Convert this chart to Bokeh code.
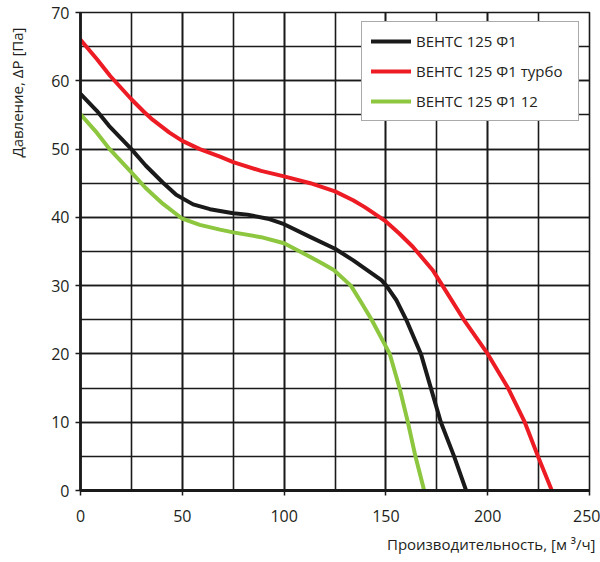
from bokeh.plotting import figure
from bokeh.models import Range1d, SingleIntervalTicker, Legend, LegendItem, Title
from bokeh.embed import file_html
from bokeh.resources import INLINE

# Data
x_black = [0, 8, 14, 25, 32, 40.4, 47, 55.3, 63.6, 75, 82, 92, 100, 113, 125, 134, 137.3, 147.8, 150.2, 155.1, 160, 167.2, 172.1, 177, 183.5, 189.4]
y_black = [58.1, 55.6, 53.4, 50.0, 47.6, 45.1, 43.3, 41.9, 41.2, 40.6, 40.4, 39.8, 39.0, 37.1, 35.4, 33.7, 33.0, 30.8, 30, 27.9, 25, 20, 15, 10, 5, 0]

x_red = [0, 8, 14.6, 25, 31, 35.4, 43.7, 50, 58.6, 68.5, 75, 88.7, 100, 112.9, 125, 133.9, 139.6, 150, 156.7, 163.2, 172.9, 177.8, 188.3, 193.9, 200, 210, 218.2, 224.7, 231.5]
y_red = [66, 63.2, 60.7, 57.3, 55.5, 54.3, 52.4, 51.2, 50.0, 48.9, 48.1, 46.8, 46.0, 45.0, 43.8, 42.5, 41.5, 39.4, 37.6, 35.7, 32.3, 30, 25, 22.6, 20, 15, 10, 5, 0]

x_green = [0, 8, 14, 25, 32, 40.4, 50, 58.6, 68.5, 75, 88.7, 100, 112.9, 119, 124.4, 132.8, 138, 143, 151.9, 156.7, 160.8, 164.5, 168.8]
y_green = [55.1, 52.4, 50.1, 46.6, 44.3, 42.0, 39.8, 38.9, 38.2, 37.8, 37.1, 36.2, 34.2, 33.2, 32.3, 30, 27.5, 25, 20, 15, 10, 5, 0]

series_names = ["ВЕНТС 125 Ф1", "ВЕНТС 125 Ф1 турбо", "ВЕНТС 125 Ф1 12"]
x_label = "Производительность, [м ³/ч]"
y_label = "Давление, ΔP [Па]"

FONT = "Open Sans"
TXT = "#231f20"
GRID = "#1a1a1a"

p = figure(width=600, height=562, output_backend="svg", toolbar_location=None,
           x_range=Range1d(0, 250), y_range=Range1d(0, 70),
           min_border_left=80, min_border_right=11, min_border_top=12, min_border_bottom=72)

p.xaxis.ticker = SingleIntervalTicker(interval=50, num_minor_ticks=2)
p.yaxis.ticker = SingleIntervalTicker(interval=10, num_minor_ticks=2)

for ax in (p.xaxis, p.yaxis):
    ax.major_label_text_font = FONT
    ax.major_label_text_font_size = "16px"
    ax.major_label_text_color = TXT
    ax.axis_line_color = GRID
    ax.axis_line_width = 2.8
    ax.major_tick_line_color = GRID
    ax.major_tick_line_width = 1.5
    ax.major_tick_out = 5
    ax.major_tick_in = 0
    ax.minor_tick_line_color = None
p.xaxis.major_label_standoff = 14
p.yaxis.major_label_standoff = 6
# blank axis label used only as a spacer between the tick labels and the title
p.yaxis.axis_label = " "
p.yaxis.axis_label_text_font_size = "10px"
p.yaxis.axis_label_standoff = 4

for g in (p.xgrid, p.ygrid):
    g.grid_line_color = GRID
    g.grid_line_width = 1.6
    g.minor_grid_line_color = GRID
    g.minor_grid_line_width = 1.6

p.outline_line_color = GRID
p.outline_line_width = 1.6
p.background_fill_color = "white"
p.border_fill_color = "white"

r_black = p.line(x_black, y_black, line_color="#1a1a1a", line_width=4, line_join="round", line_cap="round")
r_red = p.line(x_red, y_red, line_color="#ed1c24", line_width=4, line_join="round", line_cap="round")
r_green = p.line(x_green, y_green, line_color="#8dc63f", line_width=4, line_join="round", line_cap="round")

legend = Legend(items=[LegendItem(label=series_names[0], renderers=[r_black]),
                       LegendItem(label=series_names[1], renderers=[r_red]),
                       LegendItem(label=series_names[2], renderers=[r_green])],
                location=(281, 369), padding=9, spacing=10,
                glyph_width=40, glyph_height=20, label_height=20, label_width=153,
                label_standoff=5, label_text_font=FONT, label_text_font_size="15px",
                label_text_color=TXT, border_line_color="#555555", border_line_width=1,
                background_fill_color="white", background_fill_alpha=1.0, margin=0)
p.add_layout(legend, "center")

p.add_layout(Title(text=x_label, align="right", offset=-6, text_font=FONT,
                   text_font_size="15px", text_font_style="normal", text_color=TXT,
                   standoff=14), "below")
p.add_layout(Title(text=y_label, align="right", offset=15, text_font=FONT,
                   text_font_size="15px", text_font_style="normal", text_color=TXT,
                   standoff=8), "left")

open("out.html", "w").write(file_html(p, INLINE))
